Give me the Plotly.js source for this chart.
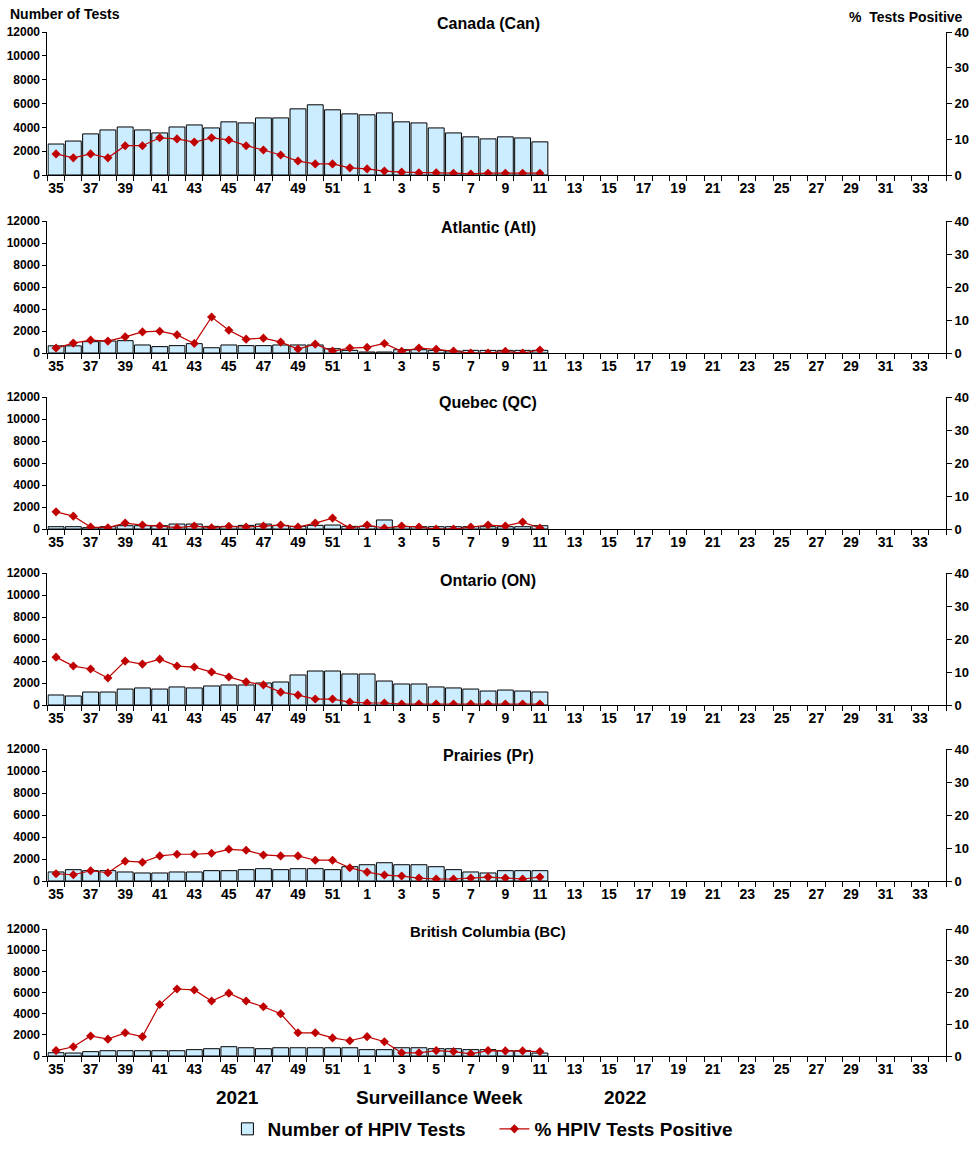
<!DOCTYPE html>
<html>
<head>
<meta charset="utf-8">
<script src="https://cdn.plot.ly/plotly-3.0.1.min.js"></script>
<style>html,body{margin:0;padding:0;background:#fff;}#chart{width:976px;height:1152px;}</style>
</head>
<body>
<div id="chart"></div>
<script>
// Surveillance weeks (2021 weeks 35-52, 2022 weeks 1-34)
const weeks = ['35','36','37','38','39','40','41','42','43','44','45','46','47','48','49','50','51','52',
  '1','2','3','4','5','6','7','8','9','10','11','12','13','14','15','16','17','18','19','20','21','22',
  '23','24','25','26','27','28','29','30','31','32','33','34'];

const regionNames = ['Canada (Can)','Atlantic (Atl)','Quebec (QC)','Ontario (ON)','Prairies (Pr)','British Columbia (BC)'];

const canTests = [2600,2850,3450,3780,4030,3780,3530,4030,4200,3950,4460,4370,4790,4790,5550,5890,5470,5130,5050,5210,4460,4370,3950,3530,3200,3030,3200,3110,2780];
const canPct   = [5.9,4.8,5.9,4.8,8.2,8.2,10.4,10.1,9.2,10.4,9.8,8.2,7.0,5.6,3.9,3.1,3.1,2.0,1.7,1.1,0.8,0.6,0.6,0.5,0.3,0.5,0.5,0.5,0.5];

const atlTests = [650,650,1030,1090,1120,730,580,670,850,480,730,670,670,730,730,730,390,240,90,90,300,300,240,180,240,240,240,240,240];
const atlPct   = [1.5,3.0,3.9,3.6,4.9,6.4,6.6,5.5,2.9,10.9,6.9,4.2,4.5,3.3,1.2,2.7,0.6,1.5,1.7,2.9,0.5,1.5,1.1,0.6,0.0,0.0,0.5,0.0,0.9];

const qcTests = [210,210,120,210,300,300,300,450,450,240,240,330,450,330,240,330,360,240,240,820,210,210,210,210,210,210,210,210,300];
const qcPct   = [5.2,3.9,0.6,0.4,1.8,1.2,0.9,0.4,0.9,0.4,0.8,0.6,0.9,1.2,0.6,1.8,3.3,0.3,1.2,0.3,0.9,0.6,0.0,0.0,0.6,1.2,0.9,2.1,0.3];

const onTests = [910,820,1180,1180,1450,1550,1450,1640,1550,1730,1820,1820,2000,2090,2730,3090,3090,2820,2820,2180,1910,1910,1640,1550,1450,1270,1360,1270,1180];
const onPct   = [14.5,11.8,10.9,8.2,13.3,12.4,13.9,11.8,11.5,10.0,8.5,7.0,6.1,3.9,3.0,1.8,1.8,0.9,0.6,0.6,0.3,0.3,0.3,0.3,0.3,0.3,0.3,0.3,0.3];

const prTests = [820,1030,940,940,820,730,730,820,820,940,940,1030,1120,1030,1120,1120,1030,1300,1480,1660,1480,1480,1300,1030,820,730,940,940,940];
const prPct   = [2.2,1.9,3.1,2.5,6.0,5.7,7.6,8.1,8.1,8.4,9.6,9.3,7.9,7.6,7.6,6.3,6.3,4.0,2.7,1.8,1.5,0.9,0.6,0.6,0.9,1.2,0.9,0.6,1.2];

const bcTests = [310,280,410,500,500,500,500,500,600,690,880,780,690,780,780,780,780,780,600,600,780,780,690,690,600,600,500,500,280];
const bcPct   = [1.7,2.9,6.3,5.3,7.3,6.1,16.2,21.1,20.8,17.3,19.8,17.3,15.5,13.3,7.3,7.3,5.7,4.8,6.1,4.5,1.0,1.0,1.7,1.4,0.7,1.7,1.6,1.6,1.4];

const testsList = [canTests, atlTests, qcTests, onTests, prTests, bcTests];
const pctList   = [canPct, atlPct, qcPct, onPct, prPct, bcPct];

const legendNames = ['Number of HPIV Tests','% HPIV Tests Positive'];
const leftTicks = [0,2000,4000,6000,8000,10000,12000];
const leftTickText = ['0','2000','4000','6000','8000','10000','12000'];
const rightTicks = [0,10,20,30,40];

// Panel geometry (pixel rows of 12000 and 0 lines)
const W = 976, H = 1152;
const panelTop = [32,221,397,573,749,929];
const panelBot = [175,353,529,705,881,1056];
const xLeft = 47.4, xRight = 946;

const FONT = 'Liberation Sans, Arial, sans-serif';
const barFill = '#CCECFF';
const lineColor = '#C00000';

const traces = [];
const layout = {
  width: W, height: H,
  margin: {l:0, r:0, t:0, b:0},
  paper_bgcolor: '#fff', plot_bgcolor: 'rgba(0,0,0,0)',
  font: {family: FONT, color: '#000'},
  showlegend: true,
  bargap: 0.08,
  legend: {orientation: 'h', x: 0.233, xanchor: 'left', y: 1 - 1129/H, yanchor: 'middle',
           font: {family: FONT, size: 19, weight: 'bold', color:'#000'}, bgcolor: 'rgba(0,0,0,0)',
           tracegroupgap: 0, itemwidth: 30, entrywidth: 222},
  annotations: [],
};

const tickText = weeks.map((w,i) => i % 2 === 0 ? w : '');

for (let i = 0; i < 6; i++) {
  const n = i + 1;
  const xa = 'x' + (n === 1 ? '' : n);
  const yaL = 'y' + (n === 1 ? '' : n);
  const yaR = 'y' + (n + 6);
  const xs = weeks.slice(0, testsList[i].length);
  traces.push({
    type: 'bar', x: xs, y: testsList[i], xaxis: xa, yaxis: yaL,
    name: legendNames[0], legendgroup: 'tests', showlegend: i === 0,
    marker: {color: barFill, line: {color: '#000', width: 1}},
    hoverinfo: 'x+y'
  });
  traces.push({
    type: 'scatter', mode: 'lines+markers', x: xs, y: pctList[i], xaxis: xa, yaxis: yaR,
    name: legendNames[1], legendgroup: 'pct', showlegend: i === 0,
    line: {color: lineColor, width: 1.2},
    marker: {symbol: 'diamond', size: 7, color: lineColor},
    hoverinfo: 'x+y'
  });
  const yDom = [1 - panelBot[i]/H, 1 - panelTop[i]/H];
  const xDom = [xLeft/W, xRight/W];
  layout['xaxis' + (n === 1 ? '' : n)] = {
    domain: xDom, anchor: yaL, type: 'category',
    categoryorder: 'array', categoryarray: weeks, range: [-0.5, weeks.length - 0.5],
    tickmode: 'array', tickvals: weeks, ticktext: tickText, tickson: 'boundaries', tickangle: 0,
    ticks: 'outside', ticklen: 5, tickcolor: '#000', tickwidth: 1,
    showline: true, linecolor: '#000', linewidth: 1, showgrid: false, zeroline: false,
    tickfont: {family: FONT, size: 14, weight: 'bold', color: '#000'},
    fixedrange: true, automargin: false
  };
  layout['yaxis' + (n === 1 ? '' : n)] = {
    domain: yDom, anchor: xa, range: [0, 12000], tickmode: 'array', tickvals: leftTicks, ticktext: leftTickText,
    ticks: 'outside', ticklen: 4, tickcolor: '#000', showline: true, linecolor: '#000', linewidth: 1,
    showgrid: false, zeroline: false,
    tickfont: {family: FONT, size: 12, weight: 'bold', color: '#000'}, automargin: false
  };
  layout['yaxis' + (n + 6)] = {
    domain: yDom, anchor: xa, overlaying: yaL, side: 'right', range: [0, 40],
    tickmode: 'array', tickvals: rightTicks,
    ticks: 'outside', ticklen: 5, tickcolor: '#000', showline: true, linecolor: '#000', linewidth: 1,
    showgrid: false, zeroline: false,
    tickfont: {family: FONT, size: 13, weight: 'bold', color: '#000'}, automargin: false
  };
  const titleY = [23, 227, 403, 580, 755, 931][i];
  layout.annotations.push({
    xref: 'paper', yref: 'paper', x: 488/W, y: 1 - titleY/H, xanchor: 'center', yanchor: 'middle',
    text: regionNames[i], showarrow: false,
    font: {family: FONT, size: i === 5 ? 15 : 16, weight: 'bold', color: '#000'}
  });
}

layout.annotations.push(
  {xref:'paper', yref:'paper', x: 8/W, y: 1 - 14/H, xanchor:'left', yanchor:'middle', showarrow:false,
   text:'Number of Tests', font:{family:FONT, size:14, weight:'bold', color:'#000'}},
  {xref:'paper', yref:'paper', x: 965/W, y: 1 - 17/H, xanchor:'right', yanchor:'middle', showarrow:false,
   text:'%  Tests Positive', font:{family:FONT, size:14, weight:'bold', color:'#000'}},
  {xref:'paper', yref:'paper', x: 237/W, y: 1 - 1097/H, xanchor:'center', yanchor:'middle', showarrow:false,
   text:'2021', font:{family:FONT, size:19, weight:'bold', color:'#000'}},
  {xref:'paper', yref:'paper', x: 439/W, y: 1 - 1097/H, xanchor:'center', yanchor:'middle', showarrow:false,
   text:'Surveillance Week', font:{family:FONT, size:19, weight:'bold', color:'#000'}},
  {xref:'paper', yref:'paper', x: 625/W, y: 1 - 1097/H, xanchor:'center', yanchor:'middle', showarrow:false,
   text:'2022', font:{family:FONT, size:19, weight:'bold', color:'#000'}}
);

Plotly.newPlot('chart', traces, layout, {displayModeBar: false, staticPlot: true});
</script>
</body>
</html>
